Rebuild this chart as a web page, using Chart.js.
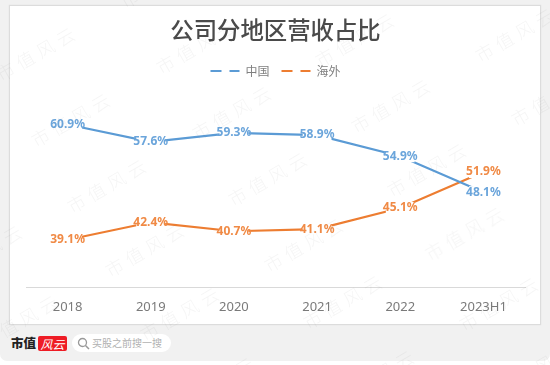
<!DOCTYPE html>
<html>
  <head>
    <title>公司分地区营收占比</title>
    <style>
      html, body { margin: 0; padding: 0; background: #fff; }
      body { width: 550px; height: 365px; overflow: hidden; position: relative; font-family: "Noto Sans CJK SC", "Noto Sans", sans-serif; }
      #page { position: absolute; left: 0; top: 0; width: 550px; height: 361px; background: #f1f1f1; border-radius: 0 0 7px 7px; }
      #card { position: absolute; left: 9px; top: 5px; width: 530px; height: 318px; background: #fff; border: 1px solid #dcdcdc; box-shadow: 0 0 1px #ddd; }
      #wrap { position: absolute; left: 0; top: 0; width: 550px; height: 330px; }
      #logo { position: absolute; left: 11px; top: 333px; font-size: 12.5px; font-weight: 900; color: #222; line-height: 20px; font-family: "Noto Sans CJK SC"; }
      #logoRed { position: absolute; left: 38px; top: 336px; width: 29px; height: 15px; background: #ee1c25; border-radius: 2px; color: #fff; font-size: 12px; font-style: italic; line-height: 15px; text-align: center; }
      #search { position: absolute; left: 72px; top: 334px; width: 99px; height: 18px; background: #fff; border-radius: 9px; color: #b0b0b0; font-size: 10px; line-height: 18px; text-indent: 20px; }
      #search svg { position: absolute; left: 5px; top: 3px; }
      .wm { position: absolute; transform: translate(-50%, -50%) rotate(-30deg); font-size: 18px; letter-spacing: 5px; white-space: nowrap; color: rgba(120,120,120,0.075); font-weight: 300; pointer-events: none; }
    </style>
    <script src="https://cdn.jsdelivr.net/npm/chart.js"></script>
  </head>
  <body>
    <div id="page"></div>
    <div id="card"></div>
    <div id="wrap"><canvas id="myChart"></canvas></div>
    <div id="logo">市值</div>
    <div id="logoRed">风云</div>
    <div id="search">
      <svg width="13" height="13" viewBox="0 0 13 13"><circle cx="5.5" cy="5.5" r="4" fill="none" stroke="#999" stroke-width="1.3"/><path d="M8.5 8.5L12 12" stroke="#999" stroke-width="1.5"/></svg>
      买股之前搜一搜
    </div>
    <script>
      const categories = ['2018', '2019', '2020', '2021', '2022', '2023H1'];
      const china = [60.9, 57.6, 59.3, 58.9, 54.9, 48.1];
      const overseas = [39.1, 42.4, 40.7, 41.1, 45.1, 51.9];
      const blue = '#5b9bd5';
      const orange = '#ed7d31';

      // centre points of the watermark
      const wmX = [1, 161, 321, 480, 37, 197, 356, 516, 72, 233, 392, 552, 108, 269, 428, -16, 146, 305, 466, 20, 181, 344, 500, 56, 216, 376, 536];
      const wmY = [-14, -21, -28, -35, 52, 45, 38, 33, 118, 111, 104, 97, 184, 177, 168, 250, 248, 243, 232, 320, 312, 300, 302, 389, 382, 375, 368];
      wmX.forEach((x, i) => {
        const el = document.createElement('div');
        el.className = 'wm';
        el.textContent = '市值风云';
        el.style.left = x + 'px';
        el.style.top = wmY[i] + 'px';
        document.body.appendChild(el);
      });

      // value labels sit centred on the point, white patch cuts the line
      const valueLabels = {
        id: 'valueLabels',
        afterDatasetsDraw(chart) {
          const ctx = chart.ctx;
          ctx.save();
          ctx.font = 'bold 12px "Noto Sans"';
          ctx.textAlign = 'center';
          ctx.textBaseline = 'middle';
          chart.data.datasets.forEach((ds, i) => {
            chart.getDatasetMeta(i).data.forEach((pt, j) => {
              const text = ds.data[j].toFixed(1) + '%';
              const w = ctx.measureText(text).width - 6;
              ctx.fillStyle = '#fff';
              ctx.fillRect(pt.x - w / 2, pt.y - 6, w, 12);
              ctx.fillStyle = ds.labelColor;
              ctx.fillText(text, pt.x, pt.y);
            });
          });
          ctx.restore();
        }
      };

      const chartInstance = new Chart(document.getElementById('myChart').getContext('2d'), {
        type: 'line',
        data: {
          labels: categories,
          datasets: [
            { label: '中国', data: china, borderColor: blue, backgroundColor: blue, labelColor: '#6ba5db', borderWidth: 2.2, pointRadius: 0, tension: 0 },
            { label: '海外', data: overseas, borderColor: orange, backgroundColor: orange, labelColor: '#f08a45', borderWidth: 2.2, pointRadius: 0, tension: 0 }
          ]
        },
        options: {
          responsive: true,
          maintainAspectRatio: false,
          animation: false,
          layout: { padding: { left: 26, right: 25, top: 16, bottom: 11 } },
          plugins: {
            title: {
              display: true,
              text: '公司分地区营收占比',
              color: '#4a4a4a',
              font: { family: '"Noto Sans CJK SC"', size: 23.4, weight: '500' },
              padding: { top: 0, bottom: 9 }
            },
            legend: {
              display: true,
              position: 'top',
              labels: {
                color: '#7f7f7f',
                font: { family: '"Noto Sans CJK SC"', size: 12 },
                usePointStyle: true,
                pointStyleWidth: 29,
                padding: 12,
                generateLabels(chart) {
                  return chart.data.datasets.map((ds, i) => ({
                    text: ds.label,
                    datasetIndex: i,
                    fontColor: '#7f7f7f',
                    strokeStyle: ds.borderColor,
                    fillStyle: ds.borderColor,
                    lineWidth: 2,
                    lineDash: [11, 8],
                    pointStyle: 'line'
                  }));
                }
              }
            },
            tooltip: { enabled: false }
          },
          scales: {
            x: {
              offset: true,
              grid: { display: false },
              border: { color: '#d9d9d9', width: 1 },
              ticks: { color: '#7a7a7a', font: { family: '"Noto Sans"', size: 13 }, padding: 4, maxRotation: 0 }
            },
            y: { display: false, min: 30.08, max: 67.98 }
          }
        },
        plugins: [valueLabels]
      });
    </script>
  </body>
</html>
